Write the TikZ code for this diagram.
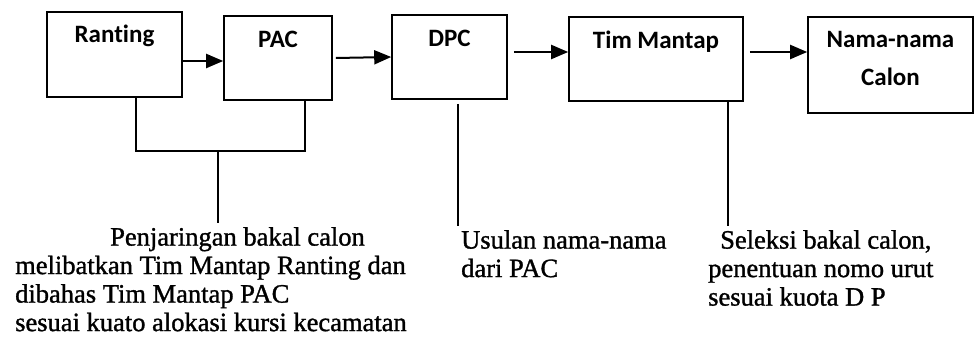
\documentclass[tikz,border=0pt]{standalone}
\usepackage{fontspec}
\setmainfont{Liberation Serif}
\newfontfamily\boxfont{Carlito}[Ligatures=NoCommon]
\newfontfamily\scanfont{Liberation Serif}[FakeBold=1.2]
\usetikzlibrary{arrows.meta, positioning}

\begin{document}
\begin{tikzpicture}[x=1pt, y=-1pt,
    stage/.style={draw=black, line width=1.6pt, inner sep=0pt},
    stagetext/.style={font=\boxfont\bfseries\fontsize{25}{38}\selectfont, align=center, inner sep=0pt},
    note/.style={font=\scanfont\fontsize{26.5}{28.5}\selectfont, align=left, inner sep=0pt, anchor=north west},
    flow/.style={-{Triangle[length=17pt, width=14pt]}, line width=2pt},
    link/.style={line width=1.8pt, shorten >=4pt}
  ]
  \useasboundingbox (0,0) rectangle (976,339);

  % stages
  \node[stage, minimum width=135pt, minimum height=85pt] (ranting) at (114.5,54.5) {};
  \node[stage, minimum width=108pt, minimum height=84pt] (pac) at (278,58) {};
  \node[stage, minimum width=115pt, minimum height=84pt] (dpc) at (449.5,57) {};
  \node[stage, minimum width=174pt, minimum height=84pt] (tim) at (656,59) {};
  \node[stage, minimum width=165pt, minimum height=96pt] (nama) at (890.5,65) {};

  \node[stagetext, below=14pt of ranting.north] (rantinglbl) {Ranting};
  \node[stagetext, below=16pt of pac.north] (paclbl) {PAC};
  \node[stagetext, below=16pt of dpc.north] (dpclbl) {DPC};
  \node[stagetext, below=15pt of tim.north] (timlbl) {Tim Mantap};
  \node[stagetext, below=15pt of nama.north] (namalbl) {Nama-nama\\Calon};

  % flow between stages
  \draw[flow] ([yshift=-6.5pt]ranting.east) -- ([yshift=-3pt]pac.west);
  \draw[flow] ([xshift=3pt]pac.east) -- (dpc.west);
  \draw[flow] ([xshift=6pt,yshift=5pt]dpc.east) -- ([yshift=7pt]tim.west);
  \draw[flow] ([xshift=6pt,yshift=7pt]tim.east) -- ([yshift=13pt]nama.west);

  % notes
  \node[note] (penj) at (15,227) {\hspace*{95pt}Penjaringan bakal calon\\melibatkan Tim Mantap Ranting dan\\dibahas Tim Mantap PAC\\sesuai kuato alokasi kursi kecamatan};
  \node[note] (usulan) at (461,230) {Usulan nama-nama\\dari PAC};
  \node[note] (seleksi) at (708,230) {\hspace*{12pt}Seleksi bakal calon,\\penentuan nomo urut\\sesuai kuota D P};

  % leaders to the notes
  \coordinate (merge) at (218,151);
  \coordinate (dpcdrop) at ([xshift=8.5pt,yshift=-4pt]dpc.south);
  \coordinate (timdrop) at ([xshift=72pt]tim.south);
  \draw[line width=1.8pt] ([xshift=21.5pt]ranting.south) |- (merge) -| ([xshift=27pt]pac.south);
  \draw[link] (merge) -- (merge |- penj.north);
  \draw[link] (dpcdrop) -- (dpcdrop |- usulan.north);
  \draw[link] (timdrop) -- (timdrop |- seleksi.north);
\end{tikzpicture}
\end{document}
